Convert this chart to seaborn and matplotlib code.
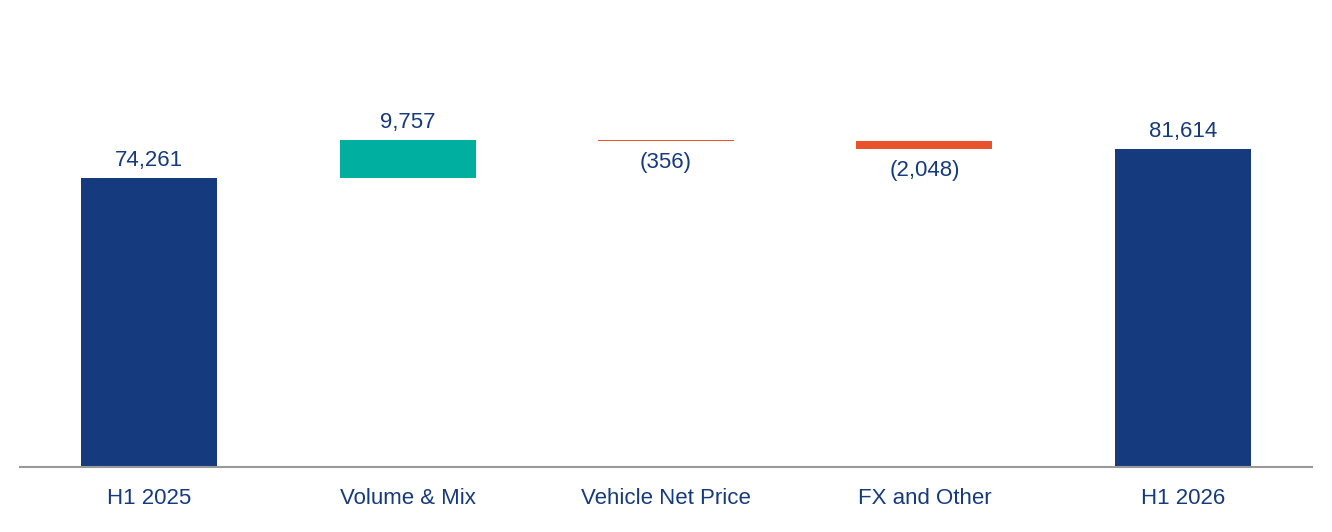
import matplotlib
matplotlib.use("Agg")
import matplotlib.pyplot as plt
import seaborn as sns
import pandas as pd

categories = ["H1 2025", "Volume & Mix", "Vehicle Net Price", "FX and Other", "H1 2026"]
values = [74261, 9757, -356, -2048, 81614]
labels = ["74,261", "9,757", "(356)", "(2,048)", "81,614"]
kinds = ["total", "delta", "delta", "delta", "total"]

navy = "#163A7E"; teal = "#00AFA0"; red = "#E8532B"

bottoms, heights, colors = [], [], []
run = 0
for v, k in zip(values, kinds):
    if k == "total":
        bottoms.append(0); heights.append(v); colors.append(navy); run = v
    else:
        if v >= 0:
            bottoms.append(run); heights.append(v); colors.append(teal)
        else:
            bottoms.append(run + v); heights.append(-v); colors.append(red)
        run += v

sns.set_style("white")
plt.rcParams["font.family"] = ["Liberation Sans", "DejaVu Sans"]
fig = plt.figure(figsize=(13.32, 5.32), dpi=100)
ax = fig.add_axes([20/1332, 65/532, 1292/1332, 467/532])
for i in range(len(categories)):
    df = pd.DataFrame({"cat": [categories[i]], "h": [heights[i]]})
    sns.barplot(data=df, x="cat", y="h", order=categories, color=colors[i],
                bottom=bottoms[i], width=0.527, ax=ax, saturation=1,
                linewidth=0)
ax.set_xlim(-0.5, 4.5)
ax.set_ylim(0, 120000)
for i, (b, h, v, lab) in enumerate(zip(bottoms, heights, values, labels)):
    if v >= 0:
        ax.text(i, b + h + 1900, lab, ha="center", va="bottom", fontsize=16, color=navy)
    else:
        ax.text(i, b - 2800, lab, ha="center", va="top", fontsize=16, color=navy)
for s in ["top", "right", "left"]:
    ax.spines[s].set_visible(False)
ax.spines["bottom"].set_color("#999999")
ax.spines["bottom"].set_linewidth(1.5)
ax.set_yticks([])
ax.set_xlabel(""); ax.set_ylabel("")
ax.tick_params(axis="x", length=0, labelsize=16, labelcolor=navy, pad=15)
fig.savefig("out.png", dpi=100)
